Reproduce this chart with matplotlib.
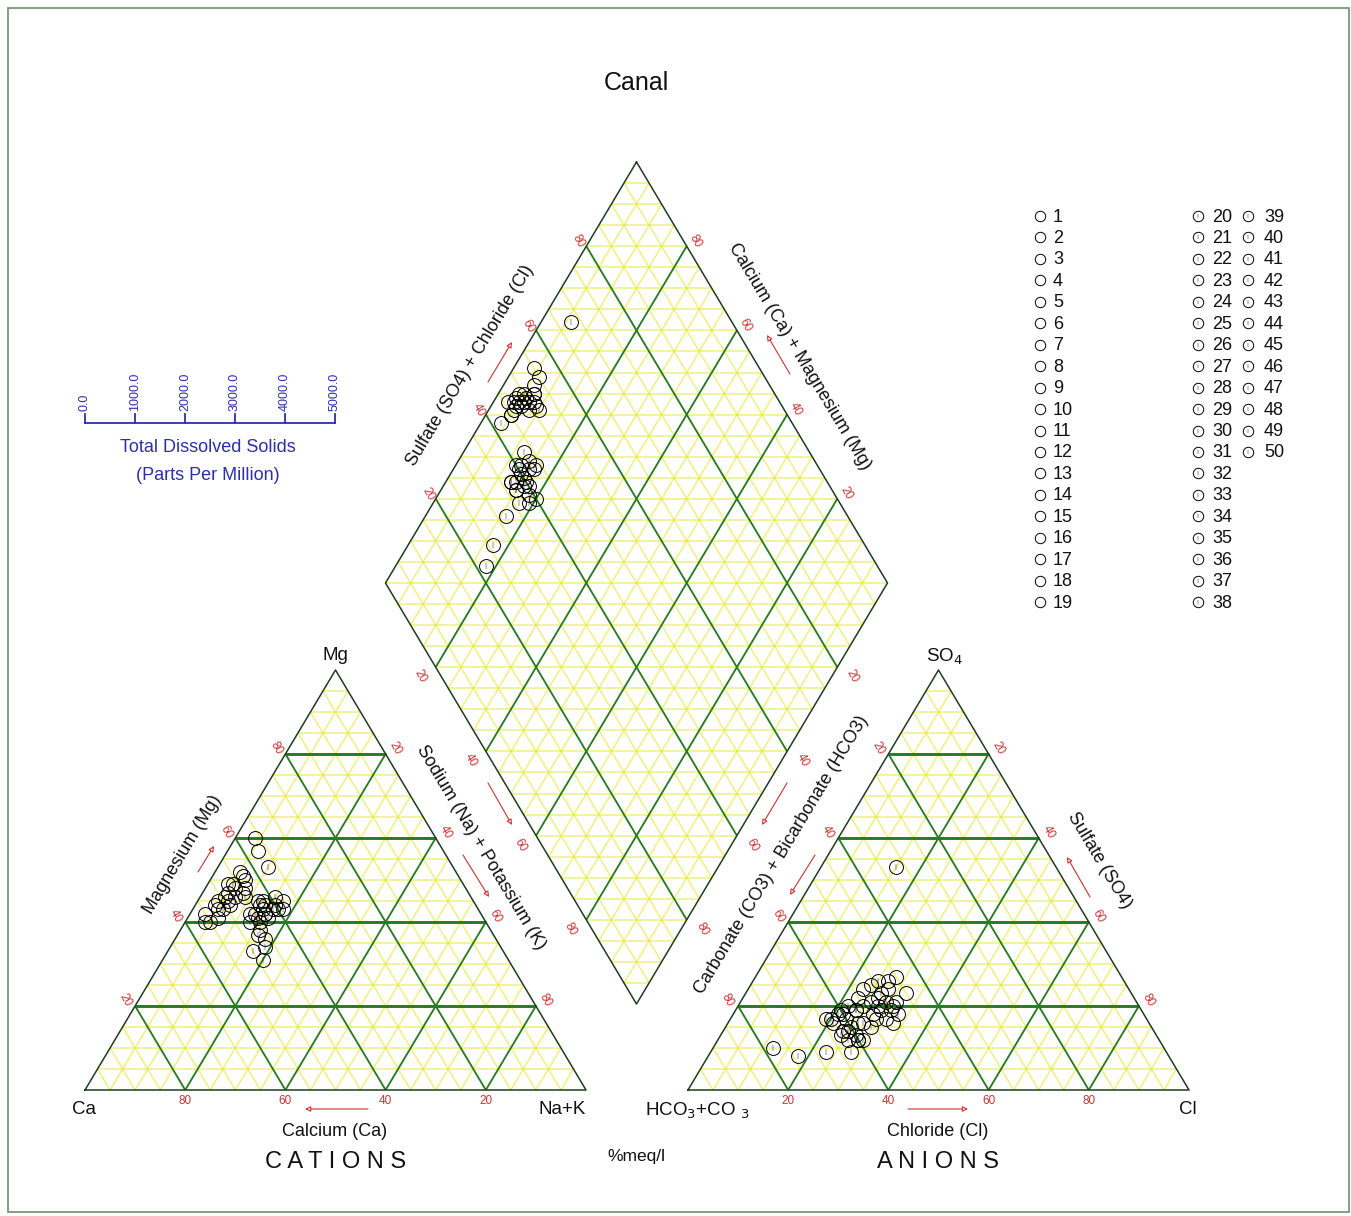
import numpy as np
import matplotlib
matplotlib.use('Agg')
import matplotlib.pyplot as plt

plt.rcParams['font.family'] = ['Liberation Sans', 'DejaVu Sans']

# ---------------- data (percent meq/l) ----------------
sample_ids = list(range(1, 51))
mg = [46, 48, 44, 50, 47, 45, 49, 43, 51, 46, 42, 48, 40, 45, 60, 57, 52, 41, 47, 44,
      49, 53, 40, 46, 43, 43, 42, 44, 41, 45, 43, 40, 42, 44, 41, 46, 43, 42, 45, 40,
      44, 38, 34, 31, 36, 33, 37, 42, 45, 43]
nak = [5, 6, 4, 7, 5, 6, 4, 5, 6, 7, 3, 8, 5, 4, 4, 6, 5, 6, 8, 7,
       5, 10, 4, 9, 6, 14, 15, 13, 16, 12, 17, 15, 13, 16, 14, 15, 18, 12, 17, 13,
       14, 16, 19, 20, 18, 17, 16, 15, 13, 16]
so4 = [20, 22, 19, 24, 21, 17, 25, 20, 26, 21, 18, 20, 17, 24, 27, 23, 22, 19, 16, 21,
       23, 26, 16, 18, 53, 17, 15, 18, 13, 19, 12, 17, 16, 19, 12, 20, 14, 16, 17, 13,
       19, 18, 14, 12, 10, 8, 9, 9, 12, 15]
cl = [28, 27, 29, 28, 26, 31, 24, 25, 27, 31, 28, 31, 29, 23, 28, 32, 23, 31, 33, 29,
      27, 25, 26, 33, 15, 23, 25, 22, 27, 21, 28, 20, 21, 24, 26, 22, 25, 27, 19, 24,
      24, 21, 24, 28, 12, 18, 23, 28, 29, 29]
ca = [100 - m - n for m, n in zip(mg, nak)]
hco3 = [100 - s - c for s, c in zip(so4, cl)]

tick_pcts = [20, 40, 60, 80]
tds_ticks = [0, 1000, 2000, 3000, 4000, 5000]
tds_labels = ["0.0", "1000.0", "2000.0", "3000.0", "4000.0", "5000.0"]
title = "Canal"

# ---------------- figure ----------------
W, H = 1351, 1216
fig = plt.figure(figsize=(W / 100, H / 100), dpi=100)
ax = fig.add_axes([0, 0, 1, 1])
ax.set_xlim(0, W)
ax.set_ylim(H, 0)
ax.axis('off')

# layout (pixel frame)
CA = np.array([85.0, 1090.0]); NAK = np.array([586.0, 1090.0]); MG = np.array([335.5, 670.0])
HC = np.array([688.0, 1090.0]); CLV = np.array([1189.0, 1090.0]); SOV = np.array([938.5, 670.0])
T = np.array([636.5, 162.0]); L = np.array([385.5, 583.0]); R = np.array([887.5, 583.0])
B = L + (R - T)

YEL = '#e6e632'
GRN = '#267a26'
EDGE = '#1e3d1e'
RED = '#cc3333'
BLUE = '#2e2ea8'
YLW, YA = 1.15, 0.6


def seg(p, q, **kw):
    ax.plot([p[0], q[0]], [p[1], q[1]], solid_capstyle='butt', **kw)


def tri_grid(V0, V1, V2):
    for k in range(1, 20):
        f = k / 20
        lines = [
            (V0 + f * (V2 - V0), V1 + f * (V2 - V1)),
            (V0 + f * (V1 - V0), V0 + f * (V1 - V0) + (1 - f) * (V2 - V0)),
            (V0 + (1 - f) * (V1 - V0), V0 + (1 - f) * (V2 - V0)),
        ]
        for p, q in lines:
            seg(p, q, color=YEL, lw=YLW, alpha=YA, zorder=1)
    for k in (4, 8, 12, 16):
        f = k / 20
        seg(V0 + f * (V2 - V0), V1 + f * (V2 - V1), color=GRN, lw=2.1, zorder=2)
        seg(V0 + f * (V1 - V0), V0 + f * (V1 - V0) + (1 - f) * (V2 - V0), color=GRN, lw=1.3, zorder=2)
        seg(V0 + (1 - f) * (V1 - V0), V0 + (1 - f) * (V2 - V0), color=GRN, lw=1.3, zorder=2)
    poly = np.array([V0, V1, V2, V0])
    ax.plot(poly[:, 0], poly[:, 1], color=EDGE, lw=1.1, zorder=3)


def diamond_grid():
    for k in range(1, 20):
        f = k / 20
        seg(T + f * (R - T), T + f * (R - T) + (L - T), color=YEL, lw=YLW, alpha=YA, zorder=1)
        seg(T + f * (L - T), T + f * (L - T) + (R - T), color=YEL, lw=YLW, alpha=YA, zorder=1)
    hstep = (L[1] - T[1]) / 20
    for k in range(1, 40):
        y = T[1] + k * hstep
        if y <= L[1]:
            hw = (y - T[1]) / (L[1] - T[1]) * (R[0] - T[0])
        else:
            hw = (B[1] - y) / (B[1] - L[1]) * (R[0] - T[0])
        seg((T[0] - hw, y), (T[0] + hw, y), color=YEL, lw=YLW, alpha=YA, zorder=1)
    for k in (4, 8, 12, 16):
        f = k / 20
        seg(T + f * (R - T), T + f * (R - T) + (L - T), color=GRN, lw=1.3, zorder=2)
        seg(T + f * (L - T), T + f * (L - T) + (R - T), color=GRN, lw=1.3, zorder=2)
    poly = np.array([T, R, B, L, T])
    ax.plot(poly[:, 0], poly[:, 1], color=EDGE, lw=1.1, zorder=3)


tri_grid(CA, NAK, MG)
tri_grid(HC, CLV, SOV)
diamond_grid()

TFS = 8.5


def edge_labels(P0, P1, values, dist, out_ref, rot=-60):
    """values[i] is the label at fraction (i+1)*0.2 from P0 to P1"""
    d = P1 - P0
    n = np.array([d[1], -d[0]]) / np.hypot(*d)
    mid = (P0 + P1) / 2
    if np.dot(n, out_ref - mid) < 0:
        n = -n
    for i, v in enumerate(values):
        f = (i + 1) / 5
        p = P0 + f * d + n * dist
        ax.text(p[0], p[1], str(v), color=RED, fontsize=TFS, rotation=rot,
                ha='center', va='center', zorder=5)


# cation triangle
for v in tick_pcts:  # Ca along bottom
    x = NAK[0] + v / 100 * (CA[0] - NAK[0])
    ax.text(x, 1101, str(v), color=RED, fontsize=TFS, ha='center', va='center')
edge_labels(CA, MG, tick_pcts, 11, np.array([0, 600]))
edge_labels(MG, NAK, tick_pcts, 11, np.array([700, 600]))
# anion triangle
for v in tick_pcts:  # Cl along bottom
    x = HC[0] + v / 100 * (CLV[0] - HC[0])
    ax.text(x, 1101, str(v), color=RED, fontsize=TFS, ha='center', va='center')
edge_labels(SOV, HC, tick_pcts, 12, np.array([600, 700]))
edge_labels(SOV, CLV, tick_pcts, 11, np.array([1300, 700]))
# diamond
edge_labels(L, T, tick_pcts, 9, np.array([200, 300]))
edge_labels(T, R, tick_pcts[::-1], 10, np.array([1000, 300]))
edge_labels(L, B, tick_pcts, 18, np.array([300, 900]))
edge_labels(R, B, tick_pcts, 18, np.array([1000, 900]))

# ---------------- axis titles & arrows ----------------
tkw = dict(fontsize=13, ha='center', va='center', color='#111111')
ax.text(183, 855, 'Magnesium (Mg)', rotation=59, **tkw)
ax.text(481, 847, 'Sodium (Na) + Potassium (K)', rotation=-59, **tkw)
ax.text(470, 366, 'Sulfate (SO4) + Chloride (Cl)', rotation=59, **tkw)
ax.text(800, 357, 'Calcium (Ca) + Magnesium (Mg)', rotation=-59, **tkw)
ax.text(782, 855, 'Carbonate (CO3) + Bicarbonate (HCO3)', rotation=59, **tkw)
ax.text(1099, 860, 'Sulfate (SO4)', rotation=-59, **tkw)
ax.text(335, 1132, 'Calcium (Ca)', **tkw)
ax.text(938, 1132, 'Chloride (Cl)', **tkw)
ax.text(336, 1162, 'C A T I O N S', fontsize=17, ha='center', va='center', color='#111111')
ax.text(938, 1162, 'A N I O N S', fontsize=17, ha='center', va='center', color='#111111')
ax.text(636, 1157, '%meq/l', fontsize=12.5, ha='center', va='center', color='#111111')

ckw = dict(fontsize=13.5, ha='center', va='center', color='#111111')
ax.text(335, 655, 'Mg', **ckw)
ax.text(84, 1110, 'Ca', **ckw)
ax.text(562, 1110, 'Na+K', **ckw)
ax.text(697, 1111, r'HCO$_3$+CO $_3$', **ckw)
ax.text(1188, 1110, 'Cl', **ckw)
ax.text(944, 657, r'SO$_4$', **ckw)

arrows = [
    ((368, 1109), (305, 1109)),
    ((908, 1109), (968, 1109)),
    ((198, 872), (214, 846)),
    ((488, 783), (512, 825)),
    ((463, 855), (489, 897)),
    ((488, 382), (512, 342)),
    ((790, 374), (767, 335)),
    ((787, 783), (762, 825)),
    ((815, 855), (790, 895)),
    ((1090, 897), (1067, 857)),
]
for p, q in arrows:
    ax.annotate('', xy=q, xytext=p,
                arrowprops=dict(arrowstyle='-|>', color=RED, lw=0.8,
                                mutation_scale=8, fc='white', shrinkA=0, shrinkB=0))

ax.text(636, 83, title, fontsize=18, ha='center', va='center', color='#111111')

# ---------------- TDS scale ----------------
x0, x1, ys = 85, 335, 423
ax.plot([x0, x1], [ys, ys], color=BLUE, lw=1.3)
for t, lab in zip(tds_ticks, tds_labels):
    x = x0 + (x1 - x0) * t / tds_ticks[-1]
    ax.plot([x, x], [ys, ys - 9], color=BLUE, lw=1.3)
    ax.text(x, ys - 12, lab, rotation=90, fontsize=9, color=BLUE, ha='center', va='bottom')
ax.text(208, 447, 'Total Dissolved Solids', fontsize=13, color=BLUE, ha='center', va='center')
ax.text(208, 476, '(Parts Per Million)', fontsize=13, color=BLUE, ha='center', va='center')


# ---------------- data points ----------------
def draw_marker(x, y, sid, ms):
    ax.plot(x, y, marker='o', ms=ms, mfc='none', mec='black', mew=0.7, zorder=6,
            linestyle='none')
    if sid >= 20:
        ax.plot(x, y, marker=r'$\mathrm{I}$', ms=ms * 0.45, color='black', mew=0.3,
                zorder=6, linestyle='none')


for i, sid in enumerate(sample_ids):
    pc = CA + nak[i] / 100 * (NAK - CA) + mg[i] / 100 * (MG - CA)
    pa = HC + cl[i] / 100 * (CLV - HC) + so4[i] / 100 * (SOV - HC)
    a = nak[i] / 100
    b = (so4[i] + cl[i]) / 100
    pd = T + a * (R - T) + (1 - b) * (L - T)
    for p in (pc, pa, pd):
        draw_marker(p[0], p[1], sid, 10)

# ---------------- legend ----------------
dy = 21.45
for sid in sample_ids:
    if sid <= 19:
        mx, tx, row = 1040, 1053, sid - 1
    elif sid <= 38:
        mx, tx, row = 1198, 1212, sid - 20
    else:
        mx, tx, row = 1248, 1264, sid - 39
    y = 216 + dy * row
    draw_marker(mx, y, sid, 7.5)
    ax.text(tx, y + 1, str(sid), fontsize=13, ha='left', va='center', color='#111111')

# frame
ax.add_patch(plt.Rectangle((8, 8), 1341, 1204, fill=False, ec='#6f8f6f', lw=1.2))

fig.savefig('out.png', dpi=100)
